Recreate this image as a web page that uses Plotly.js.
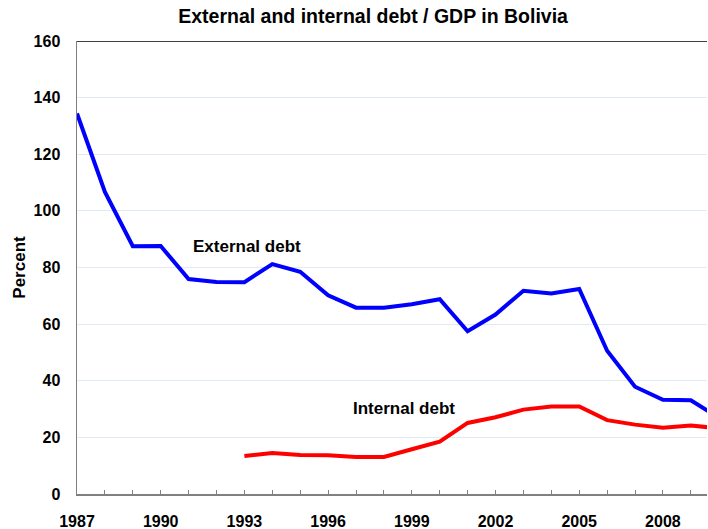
<!DOCTYPE html>
<html>
<head>
<meta charset="utf-8">
<script src="https://cdn.plot.ly/plotly-3.0.1.min.js"></script>
<style>html,body{margin:0;padding:0;background:#fff;}#chart{width:708px;height:529px;}</style>
</head>
<body>
<div id="chart"></div>
<script>
const yearsExternal = [1987,1988,1989,1990,1991,1992,1993,1994,1995,1996,1997,1998,1999,2000,2001,2002,2003,2004,2005,2006,2007,2008,2009,2010];
const externalDebt = [134.4,106.7,87.5,87.6,75.9,74.9,74.8,81.2,78.5,70.2,65.8,65.8,67.0,68.8,57.5,63.4,71.8,70.8,72.4,50.6,37.9,33.3,33.1,27.0];
const yearsInternal = [1993,1994,1995,1996,1997,1998,1999,2000,2001,2002,2003,2004,2005,2006,2007,2008,2009,2010];
const internalDebt = [13.4,14.5,13.8,13.7,13.1,13.1,15.8,18.5,25.1,27.1,29.8,30.9,30.9,26.1,24.5,23.4,24.2,23.2];
const xTickVals = [1987,1990,1993,1996,1999,2002,2005,2008];
const yTickVals = [0,20,40,60,80,100,120,140,160];

const font = 'Liberation Sans, Arial, sans-serif';
const traces = [
  {x: yearsExternal, y: externalDebt, mode: 'lines', name: 'External debt',
   line: {color: '#0000ff', width: 4}},
  {x: yearsInternal, y: internalDebt, mode: 'lines', name: 'Internal debt',
   line: {color: '#ff0000', width: 4}}
];
const layout = {
  width: 708, height: 529,
  margin: {l: 77, r: 1, t: 41, b: 35},
  paper_bgcolor: '#fff', plot_bgcolor: '#fff',
  showlegend: false,
  font: {family: font, color: '#000'},
  title: {text: '<b>External and internal debt / GDP in Bolivia</b>',
          font: {family: font, size: 19.5, color: '#000'},
          x: 0.527, xanchor: 'center', y: 0.969, yanchor: 'middle'},
  xaxis: {range: [1987, 2009.58], tickvals: xTickVals, ticktext: xTickVals.map(String),
          showgrid: false, zeroline: false, showline: true, linecolor: '#808080', linewidth: 1.5,
          ticks: 'inside', ticklen: 4, tickcolor: '#808080',
          minor: {dtick: 1, tick0: 1987, ticks: 'inside', ticklen: 4, tickcolor: '#808080', showgrid: false},
          ticklabelstandoff: 12,
          tickfont: {family: font, size: 16, color: '#000', weight: 'bold'}},
  yaxis: {range: [0, 160], tickvals: yTickVals, ticktext: yTickVals.map(String),
          showgrid: true, gridcolor: '#e1e9f3', gridwidth: 1, zeroline: false,
          showline: true, linecolor: '#808080', linewidth: 1.5, ticks: '',
          ticklabelstandoff: 12,
          tickfont: {family: font, size: 16, color: '#000', weight: 'bold'},
          title: {text: '<b>Percent</b>', font: {family: font, size: 17, color: '#000'}, standoff: 3}},
  shapes: [{type: 'line', xref: 'paper', yref: 'y', x0: 0, x1: 1, y0: 160, y1: 160,
            line: {color: '#000', width: 1.5}}],
  annotations: [
    {x: 1993.1, y: 87.3, xref: 'x', yref: 'y', text: '<b>External debt</b>', showarrow: false,
     font: {family: font, size: 17, color: '#000'}},
    {x: 1998.72, y: 30.2, xref: 'x', yref: 'y', text: '<b>Internal debt</b>', showarrow: false,
     font: {family: font, size: 17, color: '#000'}}
  ]
};
Plotly.newPlot('chart', traces, layout, {displayModeBar: false, staticPlot: true});
</script>
</body>
</html>
